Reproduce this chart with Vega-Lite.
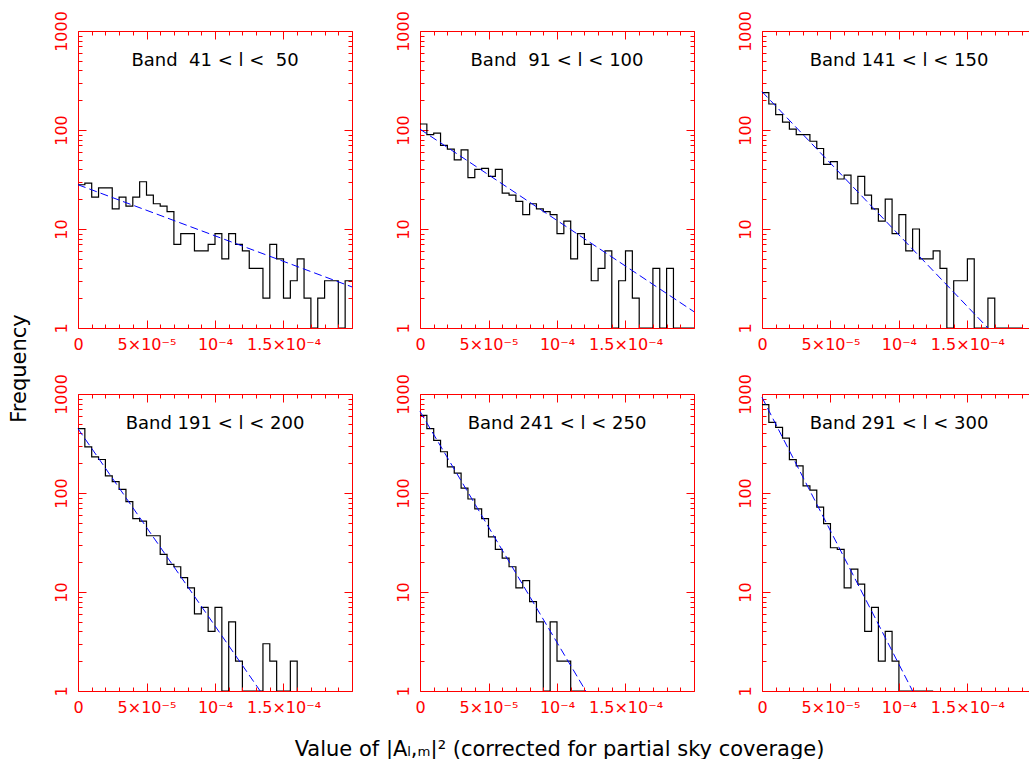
{
"$schema": "https://vega.github.io/schema/vega-lite/v6.json",
"padding": {"left": 8, "top": 10, "right": 0, "bottom": 0},
"bounds": "flush",
"spacing": {"row": 66, "column": 68},
"columns": 3,
"config": {
  "view": {"stroke": null},
  "axis": {"domainColor": "#ff0000", "tickColor": "#ff0000", "labelColor": "#ff0000", "labelFont": "DejaVu Sans", "labelFontSize": 16, "grid": false, "labelOverlap": false, "labelFlush": false, "labelBound": false, "titleColor": "#000000", "titleFont": "DejaVu Sans", "titleFontSize": 21, "titleFontWeight": "normal", "domainWidth": 1, "tickWidth": 1},
  "title": {"font": "DejaVu Sans", "fontSize": 18, "fontWeight": "normal", "color": "#000000", "frame": "group", "anchor": "middle", "baseline": "alphabetic", "offset": -59.5}
},
"datasets": {
"hist": [
{"p":1,"x":0,"n":28},{"p":1,"x":5e-6,"n":29},{"p":1,"x":1e-5,"n":21},{"p":1,"x":1.5e-5,"n":26},{"p":1,"x":2e-5,"n":26},{"p":1,"x":2.5e-5,"n":16},{"p":1,"x":3e-5,"n":21},{"p":1,"x":3.5e-5,"n":17},{"p":1,"x":4e-5,"n":21},{"p":1,"x":4.5e-5,"n":30},{"p":1,"x":5e-5,"n":22},{"p":1,"x":5.5e-5,"n":18},{"p":1,"x":6e-5,"n":17},{"p":1,"x":6.5e-5,"n":15},{"p":1,"x":7e-5,"n":7},{"p":1,"x":7.5e-5,"n":9},{"p":1,"x":8e-5,"n":9},{"p":1,"x":8.5e-5,"n":6},{"p":1,"x":9e-5,"n":6},{"p":1,"x":9.5e-5,"n":7},{"p":1,"x":1e-4,"n":9},{"p":1,"x":1.05e-4,"n":5},{"p":1,"x":1.1e-4,"n":9},{"p":1,"x":1.15e-4,"n":7},{"p":1,"x":1.2e-4,"n":6},{"p":1,"x":1.25e-4,"n":4},{"p":1,"x":1.3e-4,"n":4},{"p":1,"x":1.35e-4,"n":2},{"p":1,"x":1.4e-4,"n":7},{"p":1,"x":1.45e-4,"n":5},{"p":1,"x":1.5e-4,"n":2},{"p":1,"x":1.55e-4,"n":3},{"p":1,"x":1.6e-4,"n":5},{"p":1,"x":1.65e-4,"n":2},{"p":1,"x":1.7e-4,"n":1},{"p":1,"x":1.75e-4,"n":2},{"p":1,"x":1.8e-4,"n":3},{"p":1,"x":1.85e-4,"n":3},{"p":1,"x":1.9e-4,"n":1},{"p":1,"x":1.95e-4,"n":3},{"p":1,"x":2e-4,"n":3},
{"p":2,"x":0,"n":115},{"p":2,"x":5e-6,"n":90},{"p":2,"x":1e-5,"n":93},{"p":2,"x":1.5e-5,"n":70},{"p":2,"x":2e-5,"n":64},{"p":2,"x":2.5e-5,"n":50},{"p":2,"x":3e-5,"n":63},{"p":2,"x":3.5e-5,"n":33},{"p":2,"x":4e-5,"n":40},{"p":2,"x":4.5e-5,"n":41},{"p":2,"x":5e-5,"n":34},{"p":2,"x":5.5e-5,"n":40},{"p":2,"x":6e-5,"n":23},{"p":2,"x":6.5e-5,"n":22},{"p":2,"x":7e-5,"n":19},{"p":2,"x":7.5e-5,"n":14},{"p":2,"x":8e-5,"n":18},{"p":2,"x":8.5e-5,"n":16},{"p":2,"x":9e-5,"n":15},{"p":2,"x":9.5e-5,"n":14},{"p":2,"x":1e-4,"n":9},{"p":2,"x":1.05e-4,"n":12},{"p":2,"x":1.1e-4,"n":5},{"p":2,"x":1.15e-4,"n":9},{"p":2,"x":1.2e-4,"n":7},{"p":2,"x":1.25e-4,"n":3},{"p":2,"x":1.3e-4,"n":4},{"p":2,"x":1.35e-4,"n":6},{"p":2,"x":1.4e-4,"n":1},{"p":2,"x":1.45e-4,"n":3},{"p":2,"x":1.5e-4,"n":6},{"p":2,"x":1.55e-4,"n":2},{"p":2,"x":1.6e-4,"n":1},{"p":2,"x":1.65e-4,"n":1},{"p":2,"x":1.7e-4,"n":4},{"p":2,"x":1.75e-4,"n":1},{"p":2,"x":1.8e-4,"n":4},{"p":2,"x":1.85e-4,"n":1},{"p":2,"x":1.9e-4,"n":1},{"p":2,"x":1.95e-4,"n":1},{"p":2,"x":2e-4,"n":1},
{"p":3,"x":0,"n":238},{"p":3,"x":5e-6,"n":183},{"p":3,"x":1e-5,"n":143},{"p":3,"x":1.5e-5,"n":120},{"p":3,"x":2e-5,"n":102},{"p":3,"x":2.5e-5,"n":90},{"p":3,"x":3e-5,"n":90},{"p":3,"x":3.5e-5,"n":77},{"p":3,"x":4e-5,"n":65},{"p":3,"x":4.5e-5,"n":45},{"p":3,"x":5e-5,"n":48},{"p":3,"x":5.5e-5,"n":32},{"p":3,"x":6e-5,"n":35},{"p":3,"x":6.5e-5,"n":18},{"p":3,"x":7e-5,"n":34},{"p":3,"x":7.5e-5,"n":22},{"p":3,"x":8e-5,"n":16},{"p":3,"x":8.5e-5,"n":12},{"p":3,"x":9e-5,"n":20},{"p":3,"x":9.5e-5,"n":9},{"p":3,"x":1e-4,"n":14},{"p":3,"x":1.05e-4,"n":6},{"p":3,"x":1.1e-4,"n":10},{"p":3,"x":1.15e-4,"n":5},{"p":3,"x":1.2e-4,"n":5},{"p":3,"x":1.25e-4,"n":6},{"p":3,"x":1.3e-4,"n":4},{"p":3,"x":1.35e-4,"n":1},{"p":3,"x":1.4e-4,"n":3},{"p":3,"x":1.45e-4,"n":3},{"p":3,"x":1.5e-4,"n":5},{"p":3,"x":1.55e-4,"n":1},{"p":3,"x":1.6e-4,"n":1},{"p":3,"x":1.65e-4,"n":2},{"p":3,"x":1.7e-4,"n":1},{"p":3,"x":1.75e-4,"n":1},{"p":3,"x":1.8e-4,"n":1},{"p":3,"x":1.85e-4,"n":1},{"p":3,"x":1.9e-4,"n":1},
{"p":4,"x":0,"n":446},{"p":4,"x":5e-6,"n":293},{"p":4,"x":1e-5,"n":232},{"p":4,"x":1.5e-5,"n":218},{"p":4,"x":2e-5,"n":149},{"p":4,"x":2.5e-5,"n":130},{"p":4,"x":3e-5,"n":109},{"p":4,"x":3.5e-5,"n":82},{"p":4,"x":4e-5,"n":55},{"p":4,"x":4.5e-5,"n":52},{"p":4,"x":5e-5,"n":37},{"p":4,"x":5.5e-5,"n":37},{"p":4,"x":6e-5,"n":24},{"p":4,"x":6.5e-5,"n":19},{"p":4,"x":7e-5,"n":18},{"p":4,"x":7.5e-5,"n":14},{"p":4,"x":8e-5,"n":11},{"p":4,"x":8.5e-5,"n":6},{"p":4,"x":9e-5,"n":7},{"p":4,"x":9.5e-5,"n":4},{"p":4,"x":1e-4,"n":7},{"p":4,"x":1.05e-4,"n":1},{"p":4,"x":1.1e-4,"n":5},{"p":4,"x":1.15e-4,"n":2},{"p":4,"x":1.2e-4,"n":1},{"p":4,"x":1.25e-4,"n":1},{"p":4,"x":1.3e-4,"n":1},{"p":4,"x":1.35e-4,"n":3},{"p":4,"x":1.4e-4,"n":2},{"p":4,"x":1.45e-4,"n":1},{"p":4,"x":1.5e-4,"n":1},{"p":4,"x":1.55e-4,"n":2},{"p":4,"x":1.6e-4,"n":1},
{"p":5,"x":0,"n":608},{"p":5,"x":5e-6,"n":446},{"p":5,"x":1e-5,"n":340},{"p":5,"x":1.5e-5,"n":261},{"p":5,"x":2e-5,"n":184},{"p":5,"x":2.5e-5,"n":159},{"p":5,"x":3e-5,"n":112},{"p":5,"x":3.5e-5,"n":87},{"p":5,"x":4e-5,"n":69},{"p":5,"x":4.5e-5,"n":55},{"p":5,"x":5e-5,"n":36},{"p":5,"x":5.5e-5,"n":27},{"p":5,"x":6e-5,"n":22},{"p":5,"x":6.5e-5,"n":18},{"p":5,"x":7e-5,"n":11},{"p":5,"x":7.5e-5,"n":13},{"p":5,"x":8e-5,"n":8},{"p":5,"x":8.5e-5,"n":5},{"p":5,"x":9e-5,"n":1},{"p":5,"x":9.5e-5,"n":5},{"p":5,"x":1e-4,"n":2},{"p":5,"x":1.05e-4,"n":2},{"p":5,"x":1.1e-4,"n":1},{"p":5,"x":1.15e-4,"n":1},{"p":5,"x":1.2e-4,"n":1},
{"p":6,"x":0,"n":780},{"p":6,"x":5e-6,"n":517},{"p":6,"x":1e-5,"n":460},{"p":6,"x":1.5e-5,"n":359},{"p":6,"x":2e-5,"n":217},{"p":6,"x":2.5e-5,"n":188},{"p":6,"x":3e-5,"n":118},{"p":6,"x":3.5e-5,"n":107},{"p":6,"x":4e-5,"n":72},{"p":6,"x":4.5e-5,"n":49},{"p":6,"x":5e-5,"n":28},{"p":6,"x":5.5e-5,"n":27},{"p":6,"x":6e-5,"n":11},{"p":6,"x":6.5e-5,"n":17},{"p":6,"x":7e-5,"n":12},{"p":6,"x":7.5e-5,"n":4},{"p":6,"x":8e-5,"n":7},{"p":6,"x":8.5e-5,"n":2},{"p":6,"x":9e-5,"n":4},{"p":6,"x":9.5e-5,"n":2},{"p":6,"x":1e-4,"n":1},{"p":6,"x":1.05e-4,"n":1},{"p":6,"x":1.1e-4,"n":1},{"p":6,"x":1.15e-4,"n":1},{"p":6,"x":1.2e-4,"n":1},{"p":6,"x":1.25e-4,"n":1}
],
"fit": [
{"p":1,"x":0,"y":28},{"p":1,"x":2e-4,"y":2.6},
{"p":2,"x":0,"y":102},{"p":2,"x":2e-4,"y":1.46},
{"p":3,"x":0,"y":244},{"p":3,"x":1.65e-4,"y":1},
{"p":4,"x":0,"y":446},{"p":4,"x":1.33e-4,"y":1},
{"p":5,"x":0,"y":667},{"p":5,"x":1.21e-4,"y":1},
{"p":6,"x":0,"y":925},{"p":6,"x":1.1e-4,"y":1}
]
},
"concat": [
{
 "width": 274, "height": 297,
 "title": {"text": "Band\u00a0 41 < l <\u00a0 50"},
 "layer": [
  {"data": {"name": "hist"}, "transform": [{"filter": "datum.p == 1"}],
   "mark": {"type": "line", "interpolate": "step-after", "color": "#000000", "strokeWidth": 1.2},
   "encoding": {
    "x": {"field": "x", "type": "quantitative", "scale": {"domain": [0, 0.0002], "nice": false, "zero": false},
      "axis": {"orient": "bottom", "zindex": 1, "title": null, "values": [0,1e-5,2e-5,3e-5,4e-5,5e-5,6e-5,7e-5,8e-5,9e-5,1e-4,1.1e-4,1.2e-4,1.3e-4,1.4e-4,1.5e-4,1.6e-4,1.7e-4,1.8e-4,1.9e-4,2e-4],
        "tickSize": {"condition": {"test": "abs(datum.value*20000 - round(datum.value*20000)) < 0.001", "value": -8}, "value": -4},
        "labelExpr": "abs(datum.value) < 1e-9 ? '0' : abs(datum.value - 5e-5) < 1e-9 ? '5×10⁻⁵' : abs(datum.value - 1e-4) < 1e-9 ? '10⁻⁴' : abs(datum.value - 1.5e-4) < 1e-9 ? '1.5×10⁻⁴' : ''",
        "labelPadding": 29.5, "labelBaseline": "alphabetic"}},
    "y": {"field": "n", "type": "quantitative", "scale": {"type": "log", "domain": [1, 1000], "nice": false},
      "axis": {"orient": "left", "values": [1,2,3,4,5,6,7,8,9,10,20,30,40,50,60,70,80,90,100,200,300,400,500,600,700,800,900,1000],
        "tickSize": {"condition": {"test": "datum.value == 1 || datum.value == 10 || datum.value == 100 || datum.value == 1000", "value": -8}, "value": -4},
        "labelExpr": "datum.value == 1 || datum.value == 10 || datum.value == 100 || datum.value == 1000 ? format(datum.value, 'd') : ''",
        "labelAngle": 270, "labelAlign": "center", "labelBaseline": "alphabetic", "labelPadding": 20,
        "title": "Frequency", "titleX": -53, "titleY": 337, "titleAngle": 270, "titleAlign": "center", "titleBaseline": "alphabetic"}}
   }},
  {"data": {"name": "fit"}, "transform": [{"filter": "datum.p == 1"}],
   "mark": {"type": "line", "color": "#0000ff", "strokeDash": [8, 4], "strokeWidth": 1},
   "encoding": {
    "x": {"field": "x", "type": "quantitative", "scale": {"domain": [0, 0.0002], "nice": false, "zero": false},
      "axis": {"orient": "top", "title": null, "labels": false, "values": [0,1e-5,2e-5,3e-5,4e-5,5e-5,6e-5,7e-5,8e-5,9e-5,1e-4,1.1e-4,1.2e-4,1.3e-4,1.4e-4,1.5e-4,1.6e-4,1.7e-4,1.8e-4,1.9e-4,2e-4],
        "tickSize": {"condition": {"test": "abs(datum.value*20000 - round(datum.value*20000)) < 0.001", "value": -8}, "value": -4}}},
    "y": {"field": "y", "type": "quantitative", "scale": {"type": "log", "domain": [1, 1000], "nice": false},
      "axis": {"orient": "right", "title": null, "labels": false, "values": [1,2,3,4,5,6,7,8,9,10,20,30,40,50,60,70,80,90,100,200,300,400,500,600,700,800,900,1000],
        "tickSize": {"condition": {"test": "datum.value == 1 || datum.value == 10 || datum.value == 100 || datum.value == 1000", "value": -8}, "value": -4}}}
   }}
 ],
 "resolve": {"scale": {"x": "independent", "y": "independent"}, "axis": {"x": "independent", "y": "independent"}}
},
{
 "width": 274, "height": 297,
 "title": {"text": "Band\u00a0 91 < l < 100"},
 "layer": [
  {"data": {"name": "hist"}, "transform": [{"filter": "datum.p == 2"}],
   "mark": {"type": "line", "interpolate": "step-after", "color": "#000000", "strokeWidth": 1.2},
   "encoding": {
    "x": {"field": "x", "type": "quantitative", "scale": {"domain": [0, 0.0002], "nice": false, "zero": false},
      "axis": {"orient": "bottom", "zindex": 1, "title": null, "values": [0,1e-5,2e-5,3e-5,4e-5,5e-5,6e-5,7e-5,8e-5,9e-5,1e-4,1.1e-4,1.2e-4,1.3e-4,1.4e-4,1.5e-4,1.6e-4,1.7e-4,1.8e-4,1.9e-4,2e-4],
        "tickSize": {"condition": {"test": "abs(datum.value*20000 - round(datum.value*20000)) < 0.001", "value": -8}, "value": -4},
        "labelExpr": "abs(datum.value) < 1e-9 ? '0' : abs(datum.value - 5e-5) < 1e-9 ? '5×10⁻⁵' : abs(datum.value - 1e-4) < 1e-9 ? '10⁻⁴' : abs(datum.value - 1.5e-4) < 1e-9 ? '1.5×10⁻⁴' : ''",
        "labelPadding": 29.5, "labelBaseline": "alphabetic"}},
    "y": {"field": "n", "type": "quantitative", "scale": {"type": "log", "domain": [1, 1000], "nice": false},
      "axis": {"orient": "left", "title": null, "values": [1,2,3,4,5,6,7,8,9,10,20,30,40,50,60,70,80,90,100,200,300,400,500,600,700,800,900,1000],
        "tickSize": {"condition": {"test": "datum.value == 1 || datum.value == 10 || datum.value == 100 || datum.value == 1000", "value": -8}, "value": -4},
        "labelExpr": "datum.value == 1 || datum.value == 10 || datum.value == 100 || datum.value == 1000 ? format(datum.value, 'd') : ''",
        "labelAngle": 270, "labelAlign": "center", "labelBaseline": "alphabetic", "labelPadding": 20}}
   }},
  {"data": {"name": "fit"}, "transform": [{"filter": "datum.p == 2"}],
   "mark": {"type": "line", "color": "#0000ff", "strokeDash": [8, 4], "strokeWidth": 1},
   "encoding": {
    "x": {"field": "x", "type": "quantitative", "scale": {"domain": [0, 0.0002], "nice": false, "zero": false},
      "axis": {"orient": "top", "title": null, "labels": false, "values": [0,1e-5,2e-5,3e-5,4e-5,5e-5,6e-5,7e-5,8e-5,9e-5,1e-4,1.1e-4,1.2e-4,1.3e-4,1.4e-4,1.5e-4,1.6e-4,1.7e-4,1.8e-4,1.9e-4,2e-4],
        "tickSize": {"condition": {"test": "abs(datum.value*20000 - round(datum.value*20000)) < 0.001", "value": -8}, "value": -4}}},
    "y": {"field": "y", "type": "quantitative", "scale": {"type": "log", "domain": [1, 1000], "nice": false},
      "axis": {"orient": "right", "title": null, "labels": false, "values": [1,2,3,4,5,6,7,8,9,10,20,30,40,50,60,70,80,90,100,200,300,400,500,600,700,800,900,1000],
        "tickSize": {"condition": {"test": "datum.value == 1 || datum.value == 10 || datum.value == 100 || datum.value == 1000", "value": -8}, "value": -4}}}
   }}
 ],
 "resolve": {"scale": {"x": "independent", "y": "independent"}, "axis": {"x": "independent", "y": "independent"}}
},
{
 "width": 267, "height": 297,
 "title": {"text": "Band 141 < l < 150", "dx": 3.5},
 "layer": [
  {"data": {"name": "hist"}, "transform": [{"filter": "datum.p == 3"}],
   "mark": {"type": "line", "interpolate": "step-after", "color": "#000000", "strokeWidth": 1.2},
   "encoding": {
    "x": {"field": "x", "type": "quantitative", "scale": {"domain": [0, 0.000195], "nice": false, "zero": false},
      "axis": {"orient": "bottom", "zindex": 1, "title": null, "values": [0,1e-5,2e-5,3e-5,4e-5,5e-5,6e-5,7e-5,8e-5,9e-5,1e-4,1.1e-4,1.2e-4,1.3e-4,1.4e-4,1.5e-4,1.6e-4,1.7e-4,1.8e-4,1.9e-4],
        "tickSize": {"condition": {"test": "abs(datum.value*20000 - round(datum.value*20000)) < 0.001", "value": -8}, "value": -4},
        "labelExpr": "abs(datum.value) < 1e-9 ? '0' : abs(datum.value - 5e-5) < 1e-9 ? '5×10⁻⁵' : abs(datum.value - 1e-4) < 1e-9 ? '10⁻⁴' : abs(datum.value - 1.5e-4) < 1e-9 ? '1.5×10⁻⁴' : ''",
        "labelPadding": 29.5, "labelBaseline": "alphabetic"}},
    "y": {"field": "n", "type": "quantitative", "scale": {"type": "log", "domain": [1, 1000], "nice": false},
      "axis": {"orient": "left", "title": null, "values": [1,2,3,4,5,6,7,8,9,10,20,30,40,50,60,70,80,90,100,200,300,400,500,600,700,800,900,1000],
        "tickSize": {"condition": {"test": "datum.value == 1 || datum.value == 10 || datum.value == 100 || datum.value == 1000", "value": -8}, "value": -4},
        "labelExpr": "datum.value == 1 || datum.value == 10 || datum.value == 100 || datum.value == 1000 ? format(datum.value, 'd') : ''",
        "labelAngle": 270, "labelAlign": "center", "labelBaseline": "alphabetic", "labelPadding": 20}}
   }},
  {"data": {"name": "fit"}, "transform": [{"filter": "datum.p == 3"}],
   "mark": {"type": "line", "color": "#0000ff", "strokeDash": [8, 4], "strokeWidth": 1},
   "encoding": {
    "x": {"field": "x", "type": "quantitative", "scale": {"domain": [0, 0.000195], "nice": false, "zero": false},
      "axis": {"orient": "top", "title": null, "labels": false, "values": [0,1e-5,2e-5,3e-5,4e-5,5e-5,6e-5,7e-5,8e-5,9e-5,1e-4,1.1e-4,1.2e-4,1.3e-4,1.4e-4,1.5e-4,1.6e-4,1.7e-4,1.8e-4,1.9e-4],
        "tickSize": {"condition": {"test": "abs(datum.value*20000 - round(datum.value*20000)) < 0.001", "value": -8}, "value": -4}}},
    "y": {"field": "y", "type": "quantitative", "scale": {"type": "log", "domain": [1, 1000], "nice": false}, "axis": null}
   }}
 ],
 "resolve": {"scale": {"x": "independent", "y": "independent"}, "axis": {"x": "independent", "y": "independent"}}
},
{
 "width": 274, "height": 297,
 "title": {"text": "Band 191 < l < 200"},
 "layer": [
  {"data": {"name": "hist"}, "transform": [{"filter": "datum.p == 4"}],
   "mark": {"type": "line", "interpolate": "step-after", "color": "#000000", "strokeWidth": 1.2},
   "encoding": {
    "x": {"field": "x", "type": "quantitative", "scale": {"domain": [0, 0.0002], "nice": false, "zero": false},
      "axis": {"orient": "bottom", "zindex": 1, "title": null, "values": [0,1e-5,2e-5,3e-5,4e-5,5e-5,6e-5,7e-5,8e-5,9e-5,1e-4,1.1e-4,1.2e-4,1.3e-4,1.4e-4,1.5e-4,1.6e-4,1.7e-4,1.8e-4,1.9e-4,2e-4],
        "tickSize": {"condition": {"test": "abs(datum.value*20000 - round(datum.value*20000)) < 0.001", "value": -8}, "value": -4},
        "labelExpr": "abs(datum.value) < 1e-9 ? '0' : abs(datum.value - 5e-5) < 1e-9 ? '5×10⁻⁵' : abs(datum.value - 1e-4) < 1e-9 ? '10⁻⁴' : abs(datum.value - 1.5e-4) < 1e-9 ? '1.5×10⁻⁴' : ''",
        "labelPadding": 29.5, "labelBaseline": "alphabetic"}},
    "y": {"field": "n", "type": "quantitative", "scale": {"type": "log", "domain": [1, 1000], "nice": false},
      "axis": {"orient": "left", "title": null, "values": [1,2,3,4,5,6,7,8,9,10,20,30,40,50,60,70,80,90,100,200,300,400,500,600,700,800,900,1000],
        "tickSize": {"condition": {"test": "datum.value == 1 || datum.value == 10 || datum.value == 100 || datum.value == 1000", "value": -8}, "value": -4},
        "labelExpr": "datum.value == 1 || datum.value == 10 || datum.value == 100 || datum.value == 1000 ? format(datum.value, 'd') : ''",
        "labelAngle": 270, "labelAlign": "center", "labelBaseline": "alphabetic", "labelPadding": 20}}
   }},
  {"data": {"name": "fit"}, "transform": [{"filter": "datum.p == 4"}],
   "mark": {"type": "line", "color": "#0000ff", "strokeDash": [8, 4], "strokeWidth": 1},
   "encoding": {
    "x": {"field": "x", "type": "quantitative", "scale": {"domain": [0, 0.0002], "nice": false, "zero": false},
      "axis": {"orient": "top", "title": null, "labels": false, "values": [0,1e-5,2e-5,3e-5,4e-5,5e-5,6e-5,7e-5,8e-5,9e-5,1e-4,1.1e-4,1.2e-4,1.3e-4,1.4e-4,1.5e-4,1.6e-4,1.7e-4,1.8e-4,1.9e-4,2e-4],
        "tickSize": {"condition": {"test": "abs(datum.value*20000 - round(datum.value*20000)) < 0.001", "value": -8}, "value": -4}}},
    "y": {"field": "y", "type": "quantitative", "scale": {"type": "log", "domain": [1, 1000], "nice": false},
      "axis": {"orient": "right", "title": null, "labels": false, "values": [1,2,3,4,5,6,7,8,9,10,20,30,40,50,60,70,80,90,100,200,300,400,500,600,700,800,900,1000],
        "tickSize": {"condition": {"test": "datum.value == 1 || datum.value == 10 || datum.value == 100 || datum.value == 1000", "value": -8}, "value": -4}}}
   }}
 ],
 "resolve": {"scale": {"x": "independent", "y": "independent"}, "axis": {"x": "independent", "y": "independent"}}
},
{
 "width": 274, "height": 297,
 "title": {"text": "Band 241 < l < 250"},
 "layer": [
  {"data": {"name": "hist"}, "transform": [{"filter": "datum.p == 5"}],
   "mark": {"type": "line", "interpolate": "step-after", "color": "#000000", "strokeWidth": 1.2},
   "encoding": {
    "x": {"field": "x", "type": "quantitative", "scale": {"domain": [0, 0.0002], "nice": false, "zero": false},
      "axis": {"orient": "bottom", "zindex": 1, "values": [0,1e-5,2e-5,3e-5,4e-5,5e-5,6e-5,7e-5,8e-5,9e-5,1e-4,1.1e-4,1.2e-4,1.3e-4,1.4e-4,1.5e-4,1.6e-4,1.7e-4,1.8e-4,1.9e-4,2e-4],
        "tickSize": {"condition": {"test": "abs(datum.value*20000 - round(datum.value*20000)) < 0.001", "value": -8}, "value": -4},
        "labelExpr": "abs(datum.value) < 1e-9 ? '0' : abs(datum.value - 5e-5) < 1e-9 ? '5×10⁻⁵' : abs(datum.value - 1e-4) < 1e-9 ? '10⁻⁴' : abs(datum.value - 1.5e-4) < 1e-9 ? '1.5×10⁻⁴' : ''",
        "labelPadding": 29.5, "labelBaseline": "alphabetic",
        "title": "Value of |Aₗ,ₘ|² (corrected for partial sky coverage)", "titleX": 139, "titleY": 64, "titleAlign": "center", "titleBaseline": "alphabetic", "titleAngle": 0}},
    "y": {"field": "n", "type": "quantitative", "scale": {"type": "log", "domain": [1, 1000], "nice": false},
      "axis": {"orient": "left", "title": null, "values": [1,2,3,4,5,6,7,8,9,10,20,30,40,50,60,70,80,90,100,200,300,400,500,600,700,800,900,1000],
        "tickSize": {"condition": {"test": "datum.value == 1 || datum.value == 10 || datum.value == 100 || datum.value == 1000", "value": -8}, "value": -4},
        "labelExpr": "datum.value == 1 || datum.value == 10 || datum.value == 100 || datum.value == 1000 ? format(datum.value, 'd') : ''",
        "labelAngle": 270, "labelAlign": "center", "labelBaseline": "alphabetic", "labelPadding": 20}}
   }},
  {"data": {"name": "fit"}, "transform": [{"filter": "datum.p == 5"}],
   "mark": {"type": "line", "color": "#0000ff", "strokeDash": [8, 4], "strokeWidth": 1},
   "encoding": {
    "x": {"field": "x", "type": "quantitative", "scale": {"domain": [0, 0.0002], "nice": false, "zero": false},
      "axis": {"orient": "top", "title": null, "labels": false, "values": [0,1e-5,2e-5,3e-5,4e-5,5e-5,6e-5,7e-5,8e-5,9e-5,1e-4,1.1e-4,1.2e-4,1.3e-4,1.4e-4,1.5e-4,1.6e-4,1.7e-4,1.8e-4,1.9e-4,2e-4],
        "tickSize": {"condition": {"test": "abs(datum.value*20000 - round(datum.value*20000)) < 0.001", "value": -8}, "value": -4}}},
    "y": {"field": "y", "type": "quantitative", "scale": {"type": "log", "domain": [1, 1000], "nice": false},
      "axis": {"orient": "right", "title": null, "labels": false, "values": [1,2,3,4,5,6,7,8,9,10,20,30,40,50,60,70,80,90,100,200,300,400,500,600,700,800,900,1000],
        "tickSize": {"condition": {"test": "datum.value == 1 || datum.value == 10 || datum.value == 100 || datum.value == 1000", "value": -8}, "value": -4}}}
   }}
 ],
 "resolve": {"scale": {"x": "independent", "y": "independent"}, "axis": {"x": "independent", "y": "independent"}}
},
{
 "width": 267, "height": 297,
 "title": {"text": "Band 291 < l < 300", "dx": 3.5},
 "layer": [
  {"data": {"name": "hist"}, "transform": [{"filter": "datum.p == 6"}],
   "mark": {"type": "line", "interpolate": "step-after", "color": "#000000", "strokeWidth": 1.2},
   "encoding": {
    "x": {"field": "x", "type": "quantitative", "scale": {"domain": [0, 0.000195], "nice": false, "zero": false},
      "axis": {"orient": "bottom", "zindex": 1, "title": null, "values": [0,1e-5,2e-5,3e-5,4e-5,5e-5,6e-5,7e-5,8e-5,9e-5,1e-4,1.1e-4,1.2e-4,1.3e-4,1.4e-4,1.5e-4,1.6e-4,1.7e-4,1.8e-4,1.9e-4],
        "tickSize": {"condition": {"test": "abs(datum.value*20000 - round(datum.value*20000)) < 0.001", "value": -8}, "value": -4},
        "labelExpr": "abs(datum.value) < 1e-9 ? '0' : abs(datum.value - 5e-5) < 1e-9 ? '5×10⁻⁵' : abs(datum.value - 1e-4) < 1e-9 ? '10⁻⁴' : abs(datum.value - 1.5e-4) < 1e-9 ? '1.5×10⁻⁴' : ''",
        "labelPadding": 29.5, "labelBaseline": "alphabetic"}},
    "y": {"field": "n", "type": "quantitative", "scale": {"type": "log", "domain": [1, 1000], "nice": false},
      "axis": {"orient": "left", "title": null, "values": [1,2,3,4,5,6,7,8,9,10,20,30,40,50,60,70,80,90,100,200,300,400,500,600,700,800,900,1000],
        "tickSize": {"condition": {"test": "datum.value == 1 || datum.value == 10 || datum.value == 100 || datum.value == 1000", "value": -8}, "value": -4},
        "labelExpr": "datum.value == 1 || datum.value == 10 || datum.value == 100 || datum.value == 1000 ? format(datum.value, 'd') : ''",
        "labelAngle": 270, "labelAlign": "center", "labelBaseline": "alphabetic", "labelPadding": 20}}
   }},
  {"data": {"name": "fit"}, "transform": [{"filter": "datum.p == 6"}],
   "mark": {"type": "line", "color": "#0000ff", "strokeDash": [8, 4], "strokeWidth": 1},
   "encoding": {
    "x": {"field": "x", "type": "quantitative", "scale": {"domain": [0, 0.000195], "nice": false, "zero": false},
      "axis": {"orient": "top", "title": null, "labels": false, "values": [0,1e-5,2e-5,3e-5,4e-5,5e-5,6e-5,7e-5,8e-5,9e-5,1e-4,1.1e-4,1.2e-4,1.3e-4,1.4e-4,1.5e-4,1.6e-4,1.7e-4,1.8e-4,1.9e-4],
        "tickSize": {"condition": {"test": "abs(datum.value*20000 - round(datum.value*20000)) < 0.001", "value": -8}, "value": -4}}},
    "y": {"field": "y", "type": "quantitative", "scale": {"type": "log", "domain": [1, 1000], "nice": false}, "axis": null}
   }}
 ],
 "resolve": {"scale": {"x": "independent", "y": "independent"}, "axis": {"x": "independent", "y": "independent"}}
}
]
}
